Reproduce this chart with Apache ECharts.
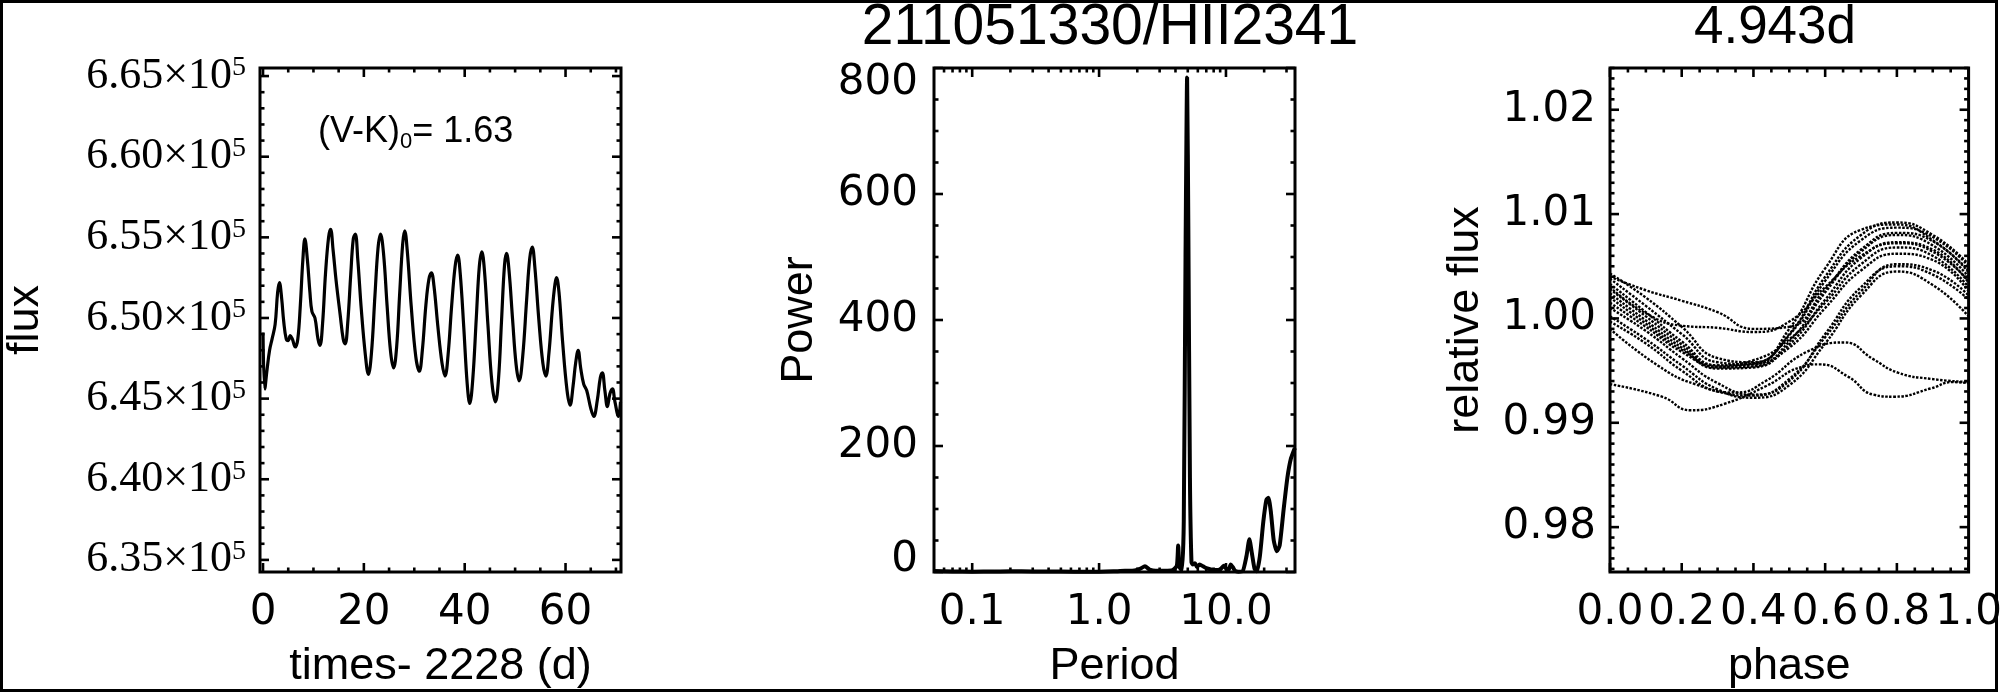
<!DOCTYPE html>
<html>
<head>
<meta charset="utf-8">
<script src="https://cdn.jsdelivr.net/npm/echarts@6/dist/echarts.min.js"></script>
<style>
html,body{margin:0;padding:0;background:#fff;}
#c{width:2005px;height:694px;}
</style>
</head>
<body>
<div id="c"></div>
<script>
// ---------------- DATA ----------------
// Left panel: light curve (time - 2228 d, flux)
const timeDays = [0.0,0.35,0.8,1.3,1.8,2.4,2.9,3.25,3.7,4.1,4.6,5.0,5.4,5.8,6.4,6.9,7.4,7.9,8.3,8.8,9.3,9.7,10.3,10.9,11.3,11.8,12.4,13.0,13.4,13.9,14.5,15.3,15.9,16.3,16.8,17.4,17.9,18.3,18.8,19.5,20.3,20.9,21.5,22.2,22.8,23.3,23.9,24.6,25.3,25.9,26.5,27.1,27.7,28.1,28.6,29.4,30.3,31.0,31.6,32.3,32.9,33.4,33.9,34.7,35.5,36.1,36.7,37.4,38.1,38.6,39.1,39.8,40.5,41.0,41.6,42.3,42.9,43.4,43.9,44.6,45.4,46.1,46.7,47.3,47.9,48.3,48.8,49.5,50.2,50.8,51.5,52.3,52.9,53.4,53.9,54.7,55.5,56.1,56.7,57.4,57.9,58.2,58.7,59.4,60.3,60.9,61.5,62.0,62.5,63.0,63.6,64.2,65.0,65.6,66.3,66.9,67.3,67.8,68.3,68.8,69.3,69.8,70.5,70.9];
const fluxValues = [649100,645600,646800,648000,648700,649600,651600,652200,651200,649800,648700,648600,648900,648700,648200,648700,650800,653600,654900,653600,651600,650400,650000,648700,648300,649600,652800,655000,655500,654200,652300,650200,648700,648400,649700,652700,654900,655200,653600,650500,647700,646500,647800,651400,654300,655200,654000,650800,647900,646900,648200,651500,654600,655400,654200,650700,647600,646700,648000,650800,652400,652800,652000,649400,647200,646400,647700,650700,653200,653900,652800,649500,645900,644700,646200,650000,653200,654100,653000,649600,646000,644800,646200,649800,653300,654000,652900,649900,647100,646100,647600,651200,653700,654400,653200,649900,647200,646400,647800,650600,652100,652500,651600,648600,645500,644600,645800,647200,648000,646900,645900,645500,644400,643900,644900,646300,646600,645500,644500,645300,645600,644800,643900,644800];

// Middle panel: periodogram (period d, power)
const periodDays = [0.05,0.07,0.1,0.15,0.2,0.3,0.5,0.8,1.0,1.3,1.6,1.9,2.1,2.3,2.5,2.8,3.3,3.8,4.1,4.2,4.3,4.5,4.65,4.8,4.94,5.05,5.2,5.35,5.5,5.7,5.9,6.2,6.6,7.0,7.6,8.3,9.0,9.6,10.0,10.5,10.9,11.3,11.8,12.5,13.5,14.5,15.3,16.0,16.8,17.5,18.5,19.7,20.8,21.6,22.6,23.8,25.2,26.5,28.5,30.5,32.5,34.9];
const powerValues = [1.5,0.8,0.5,0.8,1.2,0.8,0.6,0.5,0.5,1.0,2.0,2.5,5,9,4,2,2,3,10,42,8,2,80,500,785,550,150,15,12,14,8,12,9,6,4,3,4,10,6,3,12,8,2,0.5,1,25,52,30,5,1,25,80,114,118,95,50,33,42,100,150,180,197];

// Right panel: phase-folded relative flux, one array per cycle
const phaseGrid = [0,0.1,0.2,0.3,0.4,0.5,0.6,0.7,0.8,0.9,1.0];
const cycleU1 = [1.0043,1.0020,0.9992,0.9962,0.9958,0.9985,1.0040,1.0080,1.0092,1.0080,1.0052];
const cycleU2 = [1.0038,1.0012,0.9985,0.9958,0.9956,0.9990,1.0048,1.0085,1.0090,1.0075,1.0046];
const cycleU3 = [1.0033,1.0006,0.9978,0.9955,0.9957,0.9984,1.0036,1.0075,1.0087,1.0078,1.0050];
const cycleU4 = [1.0028,1.0002,0.9975,0.9953,0.9954,0.9978,1.0025,1.0064,1.0080,1.0070,1.0040];
const cycleU5 = [1.0024,0.9998,0.9972,0.9952,0.9953,0.9975,1.0018,1.0058,1.0073,1.0066,1.0034];
const cycleU6 = [1.0020,0.9995,0.9970,0.9955,0.9960,0.9980,1.0015,1.0052,1.0068,1.0060,1.0030];
const cycleU7 = [1.0015,0.9992,0.9968,0.9954,0.9956,0.9972,1.0010,1.0046,1.0062,1.0056,1.0026];
const cycleS  = [1.0040,1.0027,1.0017,1.0006,0.9990,0.9992,1.0028,1.0066,1.0082,1.0074,1.0044];
const cycleF  = [1.0030,1.0005,0.9993,0.9991,0.9987,0.9997,1.0030,1.0060,1.0072,1.0064,1.0036];
const cycleL1 = [1.0010,0.9988,0.9962,0.9938,0.9927,0.9940,0.9985,1.0030,1.0050,1.0042,1.0018];
const cycleL2 = [1.0002,0.9980,0.9955,0.9932,0.9924,0.9936,0.9976,1.0022,1.0045,1.0032,1.0002];
const cycleL3 = [0.9997,0.9976,0.9950,0.9930,0.9926,0.9942,0.9982,1.0026,1.0052,1.0046,1.0022];
const phaseA = [0,0.145,0.225,0.318,0.434,0.538,0.584,0.665,0.734,0.792,0.896,0.954,1.0];
const cycleA = [0.9937,0.9925,0.9912,0.9918,0.9935,0.9954,0.9956,0.9944,0.9927,0.9925,0.9933,0.9939,0.9938];
const phaseB = [0,0.133,0.237,0.353,0.434,0.549,0.653,0.734,0.803,0.896,1.0];
const cycleB = [0.9990,0.9955,0.9937,0.9929,0.9940,0.9968,0.9977,0.9961,0.9948,0.9942,0.9939];

// Tick values (labels shown at major ticks)
const leftXMajor = [0,20,40,60];
const leftXMinor = [5,10,15,25,30,35,45,50,55,65,70];
const leftYMajor = [635000,640000,645000,650000,655000,660000,665000];
const midXMajor = [0.1,1,10];
const midXMinor = [0.06,0.07,0.08,0.09,0.2,0.3,0.4,0.5,0.6,0.7,0.8,0.9,2,3,4,5,6,7,8,9,20,30];
const midYMajor = [0,200,400,600,800];
const midYMinor = [50,100,150,250,300,350,450,500,550,650,700,750];
const rightXMajor = [0,0.2,0.4,0.6,0.8,1.0];
const rightYMajor = [0.98,0.99,1.00,1.01,1.02];

// ---------------- LAYOUT / STYLE ----------------
const SANS = '"Liberation Sans", Arial, Helvetica, sans-serif';
const WIDE = '"DejaVu Sans", "Liberation Sans", sans-serif';
const SERIF = '"Liberation Serif", "Times New Roman", serif';
const GRID_TOP = 68, GRID_H = 506, GRID_W = 361;
const LEFT_MIN = -0.6, LEFT_MAX = 71, LEFT_YMIN = 634250, LEFT_YMAX = 665500;
const MID_XMIN = 0.05, MID_XMAX = 35, MID_YMIN = 0, MID_YMAX = 800;
const RIGHT_YMIN = 0.9757, RIGHT_YMAX = 1.0240;

function minorBetween(majors, step, lo, hi) {
  const out = [];
  for (let v = lo; v <= hi + 1e-12; v += step) {
    const r = Math.round(v / step) * step;
    if (r < lo - 1e-12 || r > hi + 1e-12) continue;
    if (!majors.some(m => Math.abs(m - r) < step * 1e-3)) out.push(r);
  }
  return out;
}
const leftYMinor = minorBetween(leftYMajor, 1000, 635000, 665000);
const rightXMinor = minorBetween(rightXMajor, 0.05, 0.05, 0.95);
const rightYMinor = minorBetween(rightYMajor, 0.001, 0.976, 1.024);

function tickSeries(xi, xMaj, xMin, yMaj, yMin, xRef, yRef) {
  const data = [];
  xMaj.forEach(v => data.push([v, yRef, 0]));
  xMin.forEach(v => data.push([v, yRef, 1]));
  yMaj.forEach(v => data.push([xRef, v, 2]));
  yMin.forEach(v => data.push([xRef, v, 3]));
  return {
    type: 'custom', xAxisIndex: xi, yAxisIndex: xi, silent: true, z: 10, clip: false,
    data: data,
    renderItem: function (params, api) {
      const cs = params.coordSys;
      const k = api.value(2);
      const p = api.coord([api.value(0), api.value(1)]);
      const L = (k === 0 || k === 2) ? 9 : 4.5;
      const st = { stroke: '#000', lineWidth: 2.6 };
      if (k < 2) {
        const x = p[0], b = cs.y + cs.height, t = cs.y;
        return { type: 'group', children: [
          { type: 'line', shape: { x1: x, y1: b, x2: x, y2: b - L }, style: st },
          { type: 'line', shape: { x1: x, y1: t, x2: x, y2: t + L }, style: st }
        ]};
      } else {
        const y = p[1], l = cs.x, r = cs.x + cs.width;
        return { type: 'group', children: [
          { type: 'line', shape: { x1: l, y1: y, x2: l + L, y2: y }, style: st },
          { type: 'line', shape: { x1: r, y1: y, x2: r - L, y2: y }, style: st }
        ]};
      }
    }
  };
}

function isMult(v, s) { return Math.abs(v / s - Math.round(v / s)) < 1e-6; }

const gridBase = { top: GRID_TOP, height: GRID_H, width: GRID_W, show: true, borderColor: '#000', borderWidth: 3, backgroundColor: 'rgba(0,0,0,0)' };
const tickLabel = { color: '#000', fontFamily: WIDE, fontSize: 42 };
const nameStyle = { color: '#000', fontFamily: SANS, fontSize: 45 };

const zip = (a, b) => a.map((v, i) => [v, b[i]]);
const foldCurves = [
  [phaseGrid, cycleU1], [phaseGrid, cycleU2], [phaseGrid, cycleU3], [phaseGrid, cycleU4],
  [phaseGrid, cycleU5], [phaseGrid, cycleU6], [phaseGrid, cycleU7], [phaseGrid, cycleS],
  [phaseGrid, cycleF], [phaseGrid, cycleL1], [phaseGrid, cycleL2], [phaseGrid, cycleL3],
  [phaseA, cycleA], [phaseB, cycleB]
];

const series = [
  { type: 'line', name: 'flux', xAxisIndex: 0, yAxisIndex: 0, data: zip(timeDays, fluxValues),
    showSymbol: false, smooth: 0.4, lineStyle: { color: '#000', width: 3.2 }, z: 5 },
  { type: 'line', name: 'power', xAxisIndex: 1, yAxisIndex: 1, data: zip(periodDays, powerValues),
    showSymbol: false, smooth: 0.2, lineStyle: { color: '#000', width: 4 }, z: 5 }
];
foldCurves.forEach((c, i) => {
  series.push({ type: 'line', name: 'cycle ' + (i + 1), xAxisIndex: 2, yAxisIndex: 2, data: zip(c[0], c[1]),
    showSymbol: false, smooth: 0.5, lineStyle: { color: '#000', width: 2.4, type: [2.5, 1.5] }, z: 5 });
});
series.push(tickSeries(0, leftXMajor, leftXMinor, leftYMajor, leftYMinor, 10, 640000));
series.push(tickSeries(1, midXMajor, midXMinor, midYMajor, midYMinor, 1, 100));
series.push(tickSeries(2, rightXMajor, rightXMinor, rightYMajor, rightYMinor, 0.5, 1.0));

const option = {
  animation: false,
  backgroundColor: '#fff',
  grid: [
    Object.assign({ left: 260 }, gridBase),
    Object.assign({ left: 934 }, gridBase),
    Object.assign({ left: 1610 }, gridBase)
  ],
  xAxis: [
    { type: 'value', gridIndex: 0, min: LEFT_MIN, max: LEFT_MAX, splitNumber: 4,
      axisLine: { show: false }, axisTick: { show: false }, splitLine: { show: false },
      axisLabel: Object.assign({ margin: 20, showMinLabel: false, showMaxLabel: false,
        formatter: v => isMult(v, 20) ? String(Math.round(v)) : '' }, tickLabel),
      name: 'times- 2228 (d)', nameLocation: 'middle', nameGap: 72, nameTextStyle: nameStyle },
    { type: 'log', gridIndex: 1, min: MID_XMIN, max: MID_XMAX, logBase: 10,
      axisLine: { show: false }, axisTick: { show: false }, splitLine: { show: false },
      axisLabel: Object.assign({ margin: 20, showMinLabel: false, showMaxLabel: false,
        formatter: v => { const e = Math.log10(v); return Math.abs(e - Math.round(e)) < 1e-6 ? v.toFixed(1) : ''; } }, tickLabel),
      name: 'Period', nameLocation: 'middle', nameGap: 72, nameTextStyle: nameStyle },
    { type: 'value', gridIndex: 2, min: 0, max: 1, interval: 0.2,
      axisLine: { show: false }, axisTick: { show: false }, splitLine: { show: false },
      axisLabel: Object.assign({ margin: 20, formatter: v => v.toFixed(1) }, tickLabel),
      name: 'phase', nameLocation: 'middle', nameGap: 72, nameTextStyle: nameStyle }
  ],
  yAxis: [
    { type: 'value', gridIndex: 0, min: LEFT_YMIN, max: LEFT_YMAX, splitNumber: 6,
      axisLine: { show: false }, axisTick: { show: false }, splitLine: { show: false },
      axisLabel: { margin: 14, showMinLabel: false, showMaxLabel: false, color: '#000',
        formatter: v => isMult(v, 5000) ? '{a|' + (v / 1e5).toFixed(2) + '×10}{s|5}' : '',
        rich: { a: { fontFamily: SERIF, fontSize: 44, color: '#000' },
                s: { fontFamily: SERIF, fontSize: 28, color: '#000', verticalAlign: 'top', lineHeight: 18 } } },
      name: 'flux', nameLocation: 'middle', nameRotate: 90, nameGap: 212, nameTextStyle: nameStyle },
    { type: 'value', gridIndex: 1, min: MID_YMIN, max: MID_YMAX, interval: 200,
      axisLine: { show: false }, axisTick: { show: false }, splitLine: { show: false },
      axisLabel: Object.assign({ margin: 16,
        formatter: v => v <= MID_YMIN ? '{lo|' + v + '}' : (v >= MID_YMAX ? '{hi|' + v + '}' : String(v)),
        rich: { lo: { fontFamily: WIDE, fontSize: 42, color: '#000', padding: [0, 0, 24, 0] },
                hi: { fontFamily: WIDE, fontSize: 42, color: '#000', padding: [30, 0, 0, 0] } } }, tickLabel),
      name: 'Power', nameLocation: 'middle', nameRotate: 90, nameGap: 112, nameTextStyle: nameStyle },
    { type: 'value', gridIndex: 2, min: RIGHT_YMIN, max: RIGHT_YMAX, splitNumber: 5,
      axisLine: { show: false }, axisTick: { show: false }, splitLine: { show: false },
      axisLabel: Object.assign({ margin: 14, showMinLabel: false, showMaxLabel: false,
        formatter: v => isMult(v, 0.01) ? v.toFixed(2) : '' }, tickLabel),
      name: 'relative flux', nameLocation: 'middle', nameRotate: 90, nameGap: 122, nameTextStyle: nameStyle }
  ],
  graphic: [
    { type: 'rect', shape: { x: 1.5, y: 1.5, width: 1995, height: 689 },
      style: { fill: 'none', stroke: '#000', lineWidth: 3 }, z: 100, silent: true },
    { type: 'text', x: 1110, y: 28, style: { text: '211051330/HII2341', fill: '#000', font: '57px ' + SANS,
      textAlign: 'center', textVerticalAlign: 'middle' }, z: 50 },
    { type: 'text', x: 1775, y: 28, style: { text: '4.943d', fill: '#000', font: '53px ' + SANS,
      textAlign: 'center', textVerticalAlign: 'middle' }, z: 50 },
    { type: 'text', x: 318, y: 132, style: {
        text: '{a|(V-K)}{b|0}{a|= 1.63}', textVerticalAlign: 'middle',
        rich: { a: { fontFamily: SANS, fontSize: 36, fill: '#000', color: '#000' },
                b: { fontFamily: SANS, fontSize: 22, fill: '#000', color: '#000', padding: [20, 0, 0, 0] } } }, z: 50 }
  ],
  series: series
};

const chart = echarts.init(document.getElementById('c'));
chart.setOption(option);
</script>
</body>
</html>
